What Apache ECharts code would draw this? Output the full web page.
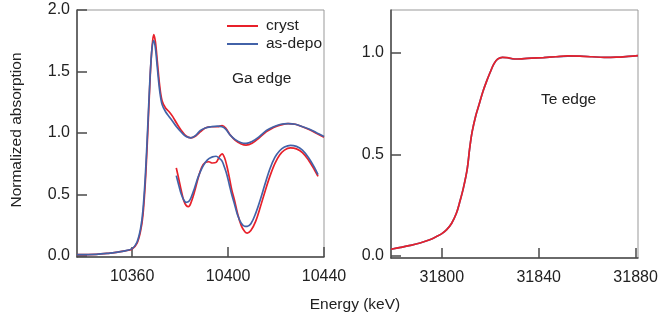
<!DOCTYPE html>
<html>
<head>
<meta charset="utf-8">
<script src="https://cdn.jsdelivr.net/npm/echarts@6/dist/echarts.min.js"></script>
<style>
html,body{margin:0;padding:0;background:#fff;}
#chart{width:663px;height:320px;}
</style>
</head>
<body>
<div id="chart"></div>
<script>
// ---- Ga edge (left panel) ----
const gaEnergy = [10337,10345,10350,10354,10357,10360,10362,10363.5,10364.5,10365.5,10366.5,10367.5,10368.3,10369,10369.7,10370.5,10371.5,10372.5,10374,10375.5,10377,10378.5,10380.5,10382.5,10384.5,10386.5,10388.5,10390.5,10393,10395.5,10397.5,10399,10401,10403,10405.5,10407.5,10410,10413,10416,10419,10422,10425,10428,10431,10434,10437,10440];
const gaCryst = [0.01,0.012,0.02,0.03,0.04,0.055,0.10,0.20,0.33,0.60,1.00,1.45,1.70,1.80,1.74,1.58,1.38,1.26,1.20,1.17,1.13,1.08,1.02,0.975,0.96,0.975,1.01,1.04,1.05,1.05,1.06,1.04,0.98,0.94,0.91,0.90,0.915,0.96,1.01,1.045,1.065,1.075,1.07,1.05,1.025,0.995,0.965];
const gaAsDepo = [0.01,0.012,0.02,0.03,0.04,0.058,0.11,0.22,0.37,0.65,1.05,1.47,1.69,1.75,1.69,1.53,1.34,1.23,1.17,1.13,1.09,1.05,1.005,0.97,0.96,0.98,1.02,1.04,1.05,1.055,1.05,1.03,0.98,0.945,0.92,0.915,0.93,0.97,1.02,1.05,1.07,1.075,1.07,1.05,1.03,1.0,0.97];

const gaLowEnergy = [10378.4,10379.5,10380.5,10381.5,10382.5,10383.5,10384.5,10386,10387.5,10389,10390.5,10392,10393.5,10395,10396.5,10397.5,10398.5,10399.5,10400.5,10401.5,10402.7,10404,10405.5,10407,10408,10409.5,10411.5,10413.5,10415.5,10417.5,10419.5,10421.5,10423.5,10426,10428.5,10431,10433.5,10436,10437.5];
const gaLowCryst = [0.715,0.62,0.53,0.45,0.41,0.40,0.43,0.52,0.63,0.72,0.76,0.765,0.755,0.76,0.81,0.83,0.80,0.73,0.64,0.54,0.45,0.34,0.245,0.195,0.185,0.205,0.28,0.40,0.53,0.65,0.75,0.82,0.86,0.878,0.87,0.84,0.78,0.70,0.646];
const gaLowAsDepo = [0.652,0.57,0.50,0.455,0.435,0.44,0.47,0.55,0.64,0.71,0.76,0.79,0.805,0.81,0.79,0.77,0.72,0.66,0.58,0.50,0.42,0.33,0.265,0.24,0.24,0.26,0.345,0.46,0.59,0.71,0.80,0.855,0.885,0.899,0.89,0.86,0.80,0.72,0.66];

// ---- Te edge (right panel) ----
const teEnergy = [31779,31783,31787,31791,31795,31798,31800,31802,31804,31806,31807.5,31809,31810.5,31811.5,31812.5,31814,31815.5,31817,31818.5,31820,31821.5,31823,31825,31827,31830,31833,31837,31842,31847,31852,31857,31862,31867,31872,31877,31881];
const teCryst = [0.033,0.042,0.052,0.064,0.080,0.097,0.11,0.13,0.16,0.21,0.27,0.34,0.43,0.53,0.61,0.69,0.75,0.81,0.86,0.905,0.945,0.968,0.977,0.976,0.969,0.970,0.973,0.976,0.980,0.984,0.983,0.980,0.977,0.978,0.982,0.986];
const teAsDepo = [0.033,0.042,0.052,0.064,0.080,0.097,0.11,0.13,0.16,0.21,0.27,0.34,0.43,0.53,0.61,0.69,0.75,0.81,0.86,0.905,0.945,0.968,0.977,0.975,0.969,0.970,0.973,0.976,0.980,0.983,0.983,0.980,0.977,0.978,0.982,0.986];

const gaXTicks = [10360,10400,10440];
const gaYTicks = [0,0.5,1.0,1.5,2.0];
const teXTicks = [31800,31840,31880];
const teYTicks = [0,0.5,1.0];

const seriesNames = ['cryst','as-depo'];
const RED = '#e8202a', BLUE = '#4262a8';

function pairs(xs, ys){ return xs.map((x,i)=>[x, ys[i]]); }

const FONT = '"Liberation Sans", Arial, sans-serif';
const TXT = '#222';
const AX = '#4a4a4a';

function xAxis(idx, min, max, ticks){
  return {
    type:'value', gridIndex:idx, min:min, max:max,
    axisLine:{show:true, onZero:false, lineStyle:{color:AX, width:1.5}},
    axisTick:{show:true, inside:true, length:10, customValues:ticks, lineStyle:{color:AX, width:1.5}},
    axisLabel:{customValues:ticks, margin:12, color:TXT, fontSize:16, fontFamily:FONT,
      formatter:v=>String(Math.round(v))},
    splitLine:{show:false}
  };
}
function yAxis(idx, min, max, ticks){
  return {
    type:'value', gridIndex:idx, min:min, max:max,
    axisLine:{show:true, onZero:false, lineStyle:{color:AX, width:1.5}},
    axisTick:{show:true, inside:true, length:10, customValues:ticks, lineStyle:{color:AX, width:1.5}},
    axisLabel:{customValues:ticks, margin:7, color:TXT, fontSize:16, fontFamily:FONT,
      formatter:v=>v.toFixed(1)},
    splitLine:{show:false}
  };
}
function line(name, color, xi, data, z){
  return {name:name, type:'line', xAxisIndex:xi, yAxisIndex:xi, data:data,
    showSymbol:false, smooth:0.35, lineStyle:{color:color, width:1.7}, itemStyle:{color:color},
    z:z, silent:true, animation:false};
}

const chart = echarts.init(document.getElementById('chart'), null, {renderer:'canvas'});
chart.setOption({
  animation:false,
  backgroundColor:'#fff',
  grid:[
    {left:77, top:10, width:247, height:247, show:true, borderColor:'#999', borderWidth:1, backgroundColor:'transparent'},
    {left:391, top:10, width:247, height:248, show:true, borderColor:'#999', borderWidth:1, backgroundColor:'transparent'}
  ],
  xAxis:[xAxis(0,10337,10440,gaXTicks), xAxis(1,31779,31881,teXTicks)],
  yAxis:[yAxis(0,-0.01,2.0,gaYTicks), yAxis(1,-0.01,1.21,teYTicks)],
  legend:{
    data:seriesNames, orient:'vertical', left:222, top:13,
    icon:'rect', itemWidth:31, itemHeight:2, itemGap:2,
    textStyle:{color:TXT, fontSize:15.5, fontFamily:FONT, padding:[0,0,0,3]},
    selectedMode:false
  },
  graphic:[
    {type:'text', left:232, top:71, style:{text:'Ga edge', fill:TXT, font:'15.5px '+FONT}},
    {type:'text', left:541, top:92, style:{text:'Te edge', fill:TXT, font:'15.5px '+FONT}},
    {type:'text', x:355, y:305, style:{text:'Energy (keV)', fill:TXT, font:'15.5px '+FONT, align:'center', verticalAlign:'middle'}},
    {type:'text', x:17, y:130, rotation:Math.PI/2, style:{text:'Normalized absorption', fill:TXT, font:'15.5px '+FONT, align:'center', verticalAlign:'middle'}}
  ],
  series:[
    line('cryst', RED, 0, pairs(gaEnergy, gaCryst), 2),
    line('as-depo', BLUE, 0, pairs(gaEnergy, gaAsDepo), 3),
    line('cryst', RED, 0, pairs(gaLowEnergy, gaLowCryst), 2),
    line('as-depo', BLUE, 0, pairs(gaLowEnergy, gaLowAsDepo), 3),
    line('as-depo', BLUE, 1, pairs(teEnergy, teAsDepo), 2),
    line('cryst', RED, 1, pairs(teEnergy, teCryst), 3)
  ]
});
</script>
</body>
</html>
